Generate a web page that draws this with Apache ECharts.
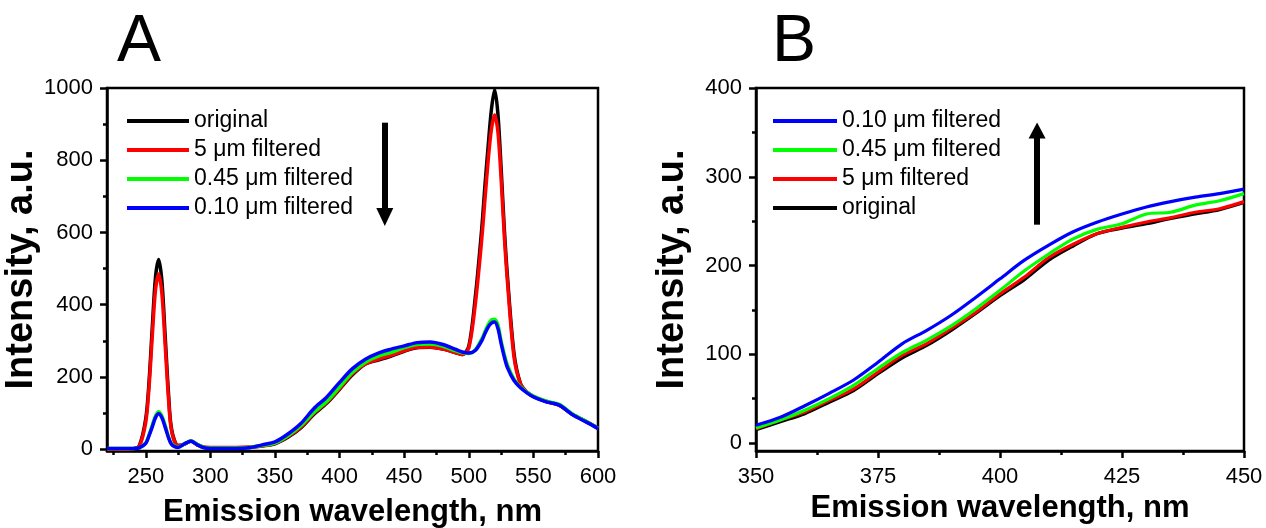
<!DOCTYPE html>
<html>
<head>
<meta charset="utf-8">
<script src="https://cdn.jsdelivr.net/npm/echarts@6/dist/echarts.min.js"></script>
<style>html,body{margin:0;padding:0;background:#fff;}#c{width:1266px;height:528px;}</style>
</head>
<body>
<div id="c"></div>
<script>
// ---------- Panel A data ----------
const wlA = [220,225,230,235,240,245,250,252.5,255,257.5,260,262.5,265,267.5,270,275,280,285,290,295,300,310,320,330,340,350,360,370,380,390,400,410,420,430,440,450,460,470,480,490,495,500,505,510,512.5,515,517.5,520,522.5,525,527.5,530,535,540,545,550,560,570,580,590,600];
const origA = [0,0,0,0,1,10,85, 185,335,475,525,465,315,160,55, 10,14,23,12,5,4, 3,3,5,9, 15,33,59,96,127,166,206,236,247,258,271,281,282,277,267, 262,285,420,610, 730,840,940,995,930,780,610,475, 265,182,158,146, 132,122,97,78,58];
const redA = [0,0,0,0,1,8,75, 170,310,440,485,430,290,145,50, 10,14,23,12,6,5, 5,5,6,9, 16,35,61,99,129,168,209,236,249,260,272,282,283,277,267, 262,280,400,580, 690,800,885,925,880,750,590,460, 255,180,158,146, 132,122,97,78,58];
const greenA = [2,2,2,2,2,4,18, 40,66,92,104,92,66,36,15, 6,15,23,13,5,3, 3,3,5,10, 17,37,65,102,132,172,213,241,258,268,281,290,291,285,272, 267,265,275,305, 325,345,358,360,345,300,262,232, 194,172,158,147, 133,124,98,79,58];
const blueA = [2,2,2,2,2,4,16, 37,61,87,98,87,61,33,13, 5,15,22,12,4,2, 2,2,4,12, 20,42,71,112,144,185,223,249,266,277,286,295,297,290,276, 269,266,273,300, 320,338,349,352,335,293,255,225, 190,170,156,145, 131,122,96,77,57];

// ---------- Panel B data ----------
const wlB = [350,355,360,365,370,375,380,385,390,395,400,405,410,415,420,425,430,435,440,445,450];
const blueB = [20,29,42,56,71,91,112,127,144,164,185,206,223,238,249,258,266,272,277,281,286];
const greenB = [17,26,37,50,65,84,102,116,132,151,172,194,213,230,241,247,258,260,268,273,281];
const redB = [16,26,35,48,61,80,99,112,129,147,168,187,209,224,236,243,249,254,260,264,272];
const origB = [15,24,33,46,59,78,96,110,127,146,166,184,206,222,236,242,247,253,258,263,271];

// ---------- ticks ----------
const xMajorA = [250,300,350,400,450,500,550,600];
const xMinorA = [225,275,325,375,425,475,525,575];
const yMajorA = [0,200,400,600,800,1000];
const yMinorA = [100,300,500,700,900];
const xMajorB = [350,375,400,425,450];
const xMinorB = [362.5,387.5,412.5,437.5];
const yMajorB = [0,100,200,300,400];
const yMinorB = [50,150,250,350];

const names = ['original','5 μm filtered','0.45 μm filtered','0.10 μm filtered'];
const colors = ['#000000','#ff0000','#00ff00','#0000ff'];

function pairs(xs, ys){ return xs.map((x,i)=>[x, ys[i]]); }

const FONT = 'Liberation Sans, Arial, sans-serif';
const axLine = {show:true, onZero:false, lineStyle:{color:'#000', width:2.5}};
const fmt = v => String(v);

function xAxes(gi, min, max, majors, minors, nameGap){
  return [
    {type:'value', gridIndex:gi, min:min, max:max, position:'bottom',
     axisLine:axLine, splitLine:{show:false},
     axisTick:{show:true, customValues:majors, length:7, inside:false, lineStyle:{color:'#000',width:2.5}},
     axisLabel:{show:true, customValues:majors, formatter:fmt, color:'#000', fontFamily:FONT, fontSize:22, margin:15},
     name:'Emission wavelength, nm', nameLocation:'middle', nameGap:nameGap,
     nameTextStyle:{color:'#000', fontFamily:FONT, fontWeight:'bold', fontSize:31}},
    {type:'value', gridIndex:gi, min:min, max:max, position:'bottom',
     axisLine:{show:false, onZero:false}, splitLine:{show:false},
     axisTick:{show:true, customValues:minors, length:4, lineStyle:{color:'#000',width:2.5}},
     axisLabel:{show:false}}
  ];
}
function yAxes(gi, min, max, majors, minors, nameGap){
  return [
    {type:'value', gridIndex:gi, min:min, max:max, position:'left',
     axisLine:axLine, splitLine:{show:false},
     axisTick:{show:true, customValues:majors, length:7, lineStyle:{color:'#000',width:2.5}},
     axisLabel:{show:true, customValues:majors, formatter:fmt, color:'#000', fontFamily:FONT, fontSize:22, margin:14},
     name:'Intensity, a.u.', nameLocation:'middle', nameGap:nameGap, nameRotate:90,
     nameTextStyle:{color:'#000', fontFamily:FONT, fontWeight:'bold', fontSize:38}},
    {type:'value', gridIndex:gi, min:min, max:max, position:'left',
     axisLine:{show:false, onZero:false}, splitLine:{show:false},
     axisTick:{show:true, customValues:minors, length:4, lineStyle:{color:'#000',width:2.5}},
     axisLabel:{show:false}}
  ];
}

function lineSeries(name, color, xs, ys, xi, yi, width){
  return {type:'line', name:name, xAxisIndex:xi, yAxisIndex:yi, data:pairs(xs,ys),
    showSymbol:false, smooth:0.3, lineStyle:{color:color, width:width}, itemStyle:{color:color},
    z:2, silent:true};
}

const seriesA = [origA, redA, greenA, blueA];
const seriesB = [origB, redB, greenB, blueB];

const series = [];
seriesA.forEach((ys,i)=>series.push(lineSeries(names[i], colors[i], wlA, ys, 0, 0, 3.5)));
seriesB.forEach((ys,i)=>series.push(lineSeries(names[i], colors[i], wlB, ys, 2, 2, 3.2)));

// arrows (annotation)
series.push({type:'line', xAxisIndex:0, yAxisIndex:0, data:[], silent:true,
  markLine:{silent:true, symbol:['none','triangle'], symbolSize:[17,18], animation:false,
    label:{show:false}, lineStyle:{color:'#000', width:6, type:'solid'},
    data:[[{coord:[435,904]},{coord:[435,643]}]]}});
series.push({type:'line', xAxisIndex:2, yAxisIndex:2, data:[], silent:true,
  markLine:{silent:true, symbol:['none','triangle'], symbolSize:[17,16], animation:false,
    label:{show:false}, lineStyle:{color:'#000', width:6, type:'solid'},
    data:[[{coord:[407.6,246]},{coord:[407.6,352]}]]}});

const chart = echarts.init(document.getElementById('c'), null, {renderer:'canvas'});
chart.setOption({
  animation:false,
  backgroundColor:'#fff',
  title:[
    {text:'A', left:112, top:5, textStyle:{fontFamily:FONT, fontSize:66, fontWeight:'normal', color:'#000'}},
    {text:'B', left:767, top:5, textStyle:{fontFamily:FONT, fontSize:66, fontWeight:'normal', color:'#000'}}
  ],
  legend:[
    {data:names.slice(), left:127, top:109, padding:0, orient:'vertical', itemWidth:62, itemHeight:4, itemGap:5,
     icon:'rect', selectedMode:false, textStyle:{fontFamily:FONT, fontSize:23, color:'#000', lineHeight:24}},
    {data:names.slice().reverse(), left:773, top:109, padding:0, orient:'vertical', itemWidth:64, itemHeight:4, itemGap:5,
     icon:'rect', selectedMode:false, textStyle:{fontFamily:FONT, fontSize:23, color:'#000', lineHeight:24}}
  ],
  grid:[
    {left:107, top:88, width:491, height:363, outerBoundsMode:'none', show:true, borderColor:'#000', borderWidth:2.5, backgroundColor:'transparent'},
    {left:756, top:88, width:488, height:363, outerBoundsMode:'none', show:true, borderColor:'#000', borderWidth:2.5, backgroundColor:'transparent'}
  ],
  xAxis:[].concat(xAxes(0,220,600,xMajorA,xMinorA,46), xAxes(1,350,450,xMajorB,xMinorB,40)),
  yAxis:[].concat(yAxes(0,-5,1000,yMajorA,yMinorA,57), yAxes(1,-9,400,yMajorB,yMinorB,64)),
  series:series
});
</script>
</body>
</html>
